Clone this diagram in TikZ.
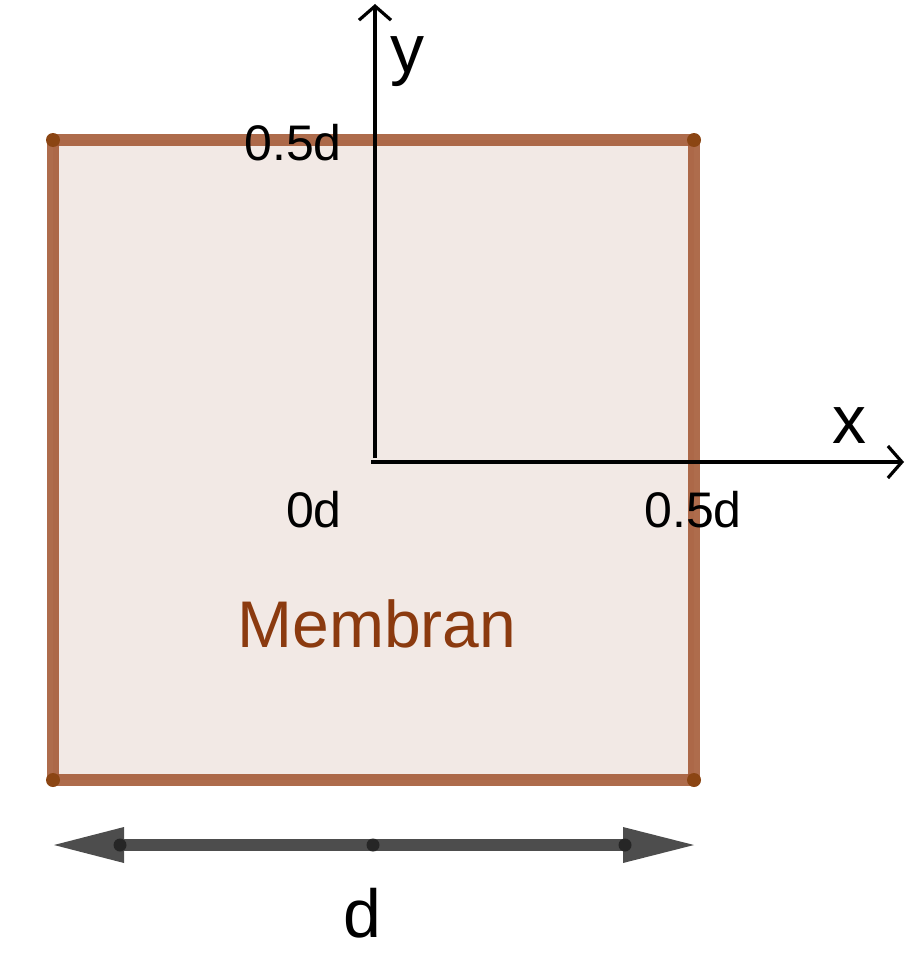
\documentclass[tikz,border=0pt]{standalone}
\usepackage{fontspec}
\setmainfont{Liberation Sans}
\usetikzlibrary{arrows.meta}
\definecolor{edge}{HTML}{A0522D}
\definecolor{dotc}{HTML}{8B4513}
\definecolor{fillc}{HTML}{F2E9E5}
\definecolor{dimc}{HTML}{4D4D4D}
\definecolor{memc}{HTML}{8B3A0F}
\tikzset{
  axis/.style={line width=1.6pt,-{Straight Barb[length=7pt,width=16pt,line width=1.6pt]}},
  edgeline/.style={draw=edge,draw opacity=0.85,line width=6pt},
  cdot/.style={circle,fill=dotc,inner sep=0pt,minimum size=7pt},
  ddot/.style={circle,fill=black!85,inner sep=0pt,minimum size=6.5pt},
  lbl/.style={inner sep=0pt,font=\fontsize{25}{28}\selectfont},
  big/.style={inner sep=0pt,font=\fontsize{34}{38}\selectfont},
}
\begin{document}
\begin{tikzpicture}[x=0.5pt,y=-0.5pt]
\useasboundingbox (0,0) rectangle (908,979);
\coordinate (A) at (53,140);
\coordinate (B) at (694,140);
\coordinate (C) at (694,780);
\coordinate (D) at (53,780);
\fill[fillc] (A) -- (B) -- (C) -- (D) -- cycle;
\draw[edgeline] (A) -- (B);
\draw[edgeline] (B) -- (C);
\draw[edgeline] (C) -- (D);
\draw[edgeline] (D) -- (A);
\node[cdot] (pa) at (A) {};
\node[cdot] (pb) at (B) {};
\node[cdot] (pc) at (C) {};
\node[cdot] (pd) at (D) {};
% axes
\coordinate (O1) at (375,458);
\coordinate (YT) at (375,4);
\coordinate (O2) at (371,462);
\coordinate (XT) at (904,462);
\draw[axis] (O1) -- (YT);
\draw[axis] (O2) -- (XT);
\node[big] (ylab) at (407,62) {y};
\node[big] (xlab) at (849,426) {x};
\node[lbl] (l1) at (293,143) {0.5d};
\node[lbl] (l2) at (314,510) {0d};
\node[lbl] (l3) at (693,510) {0.5d};
\node[inner sep=0pt,text=memc,font=\fontsize{33}{38}\selectfont] (mem) at (377,624) {Membran};
% dimension
\coordinate (L) at (120,845);
\coordinate (M) at (373,845);
\coordinate (R) at (625,845);
\draw[dimc,line width=6pt] (L) -- (R);
\fill[dimc] (54,845) -- (124,827) -- (124,863) -- cycle;
\fill[dimc] (694,845) -- (623,827) -- (623,863) -- cycle;
\node[ddot] (dl) at (L) {};
\node[ddot] (dm) at (M) {};
\node[ddot] (dr) at (R) {};
\node[big] (dlab) at (362,913) {d};
\end{tikzpicture}
\end{document}
